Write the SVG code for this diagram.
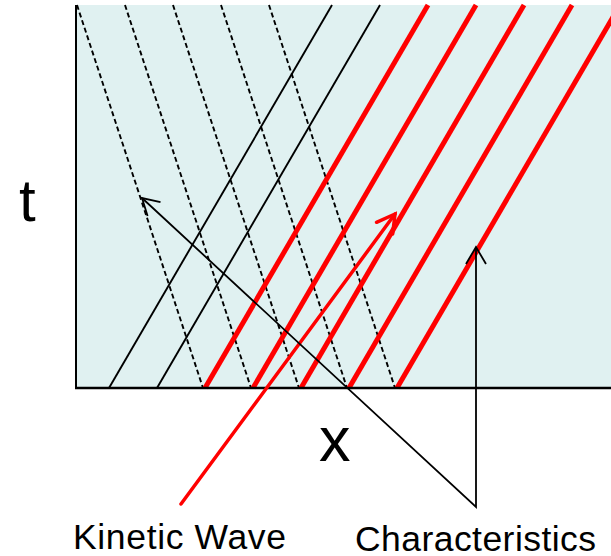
<svg xmlns="http://www.w3.org/2000/svg" width="611" height="556" viewBox="0 0 611 556">
<style>
.dash{stroke:#000;stroke-width:1.9;stroke-dasharray:5,3;fill:none}
.blk{stroke:#000;stroke-width:1.9;fill:none}
.red{stroke:#FF0000;stroke-width:5;fill:none}
.lbl{font-family:"Liberation Sans",Arial,sans-serif;fill:#000}
.ptr{stroke:#000;stroke-width:1.8;fill:none;stroke-linejoin:miter}
.rptr{stroke:#FF0000;stroke-width:3.5;fill:none;stroke-linecap:round}
</style>
<rect x="0" y="0" width="611" height="556" fill="#FFFFFF"/>
<g id="plot">
<rect x="76" y="5" width="540" height="383" fill="#E0F1F1"/>
</g>
<g id="connectors">
<g id="dashed">
<line class="dash" x1="77" y1="5" x2="203" y2="388"/>
<line class="dash" x1="125" y1="5" x2="251" y2="388"/>
<line class="dash" x1="173" y1="5" x2="299" y2="388"/>
<line class="dash" x1="221" y1="5" x2="347" y2="388"/>
<line class="dash" x1="269" y1="5" x2="395" y2="388"/>
</g>
<g id="black-lines">
<line class="blk" x1="109" y1="388" x2="332" y2="5"/>
<line class="blk" x1="157" y1="388" x2="380" y2="5"/>
</g>
<g id="red-lines">
<line class="red" x1="205" y1="388" x2="428" y2="5"/>
<line class="red" x1="253" y1="388" x2="476" y2="5"/>
<line class="red" x1="301" y1="388" x2="524" y2="5"/>
<line class="red" x1="349" y1="388" x2="572" y2="5"/>
<line class="red" x1="397" y1="388" x2="620" y2="5"/>
</g>
<g id="axes">
<line x1="76" y1="5" x2="76" y2="389" stroke="#000" stroke-width="2"/>
<line x1="75" y1="388" x2="611" y2="388" stroke="#000" stroke-width="2.6"/>
</g>
<g id="kinetic-arrow">
<line class="rptr" x1="181" y1="504" x2="395" y2="214"/>
<path class="rptr" d="M376.5,222.3 L395,214 L392.7,233.9"/>
</g>
<g id="char-arrows">
<path class="ptr" d="M142,198 L476,507 L476,247"/>
<path class="ptr" d="M160.5,202.2 L142,198 L147.6,216.1"/>
<path class="ptr" d="M466,264 L476,247 L486,264"/>
</g>
</g>
<g id="labels">
<text class="lbl" x="19" y="221" font-size="60">t</text>
<text class="lbl" x="319" y="461" font-size="63">x</text>
<text class="lbl" x="73" y="549" font-size="35.5" textLength="213" lengthAdjust="spacing">Kinetic Wave</text>
<text class="lbl" x="355" y="551" font-size="35.5" textLength="241" lengthAdjust="spacing">Characteristics</text>
</g>
</svg>
